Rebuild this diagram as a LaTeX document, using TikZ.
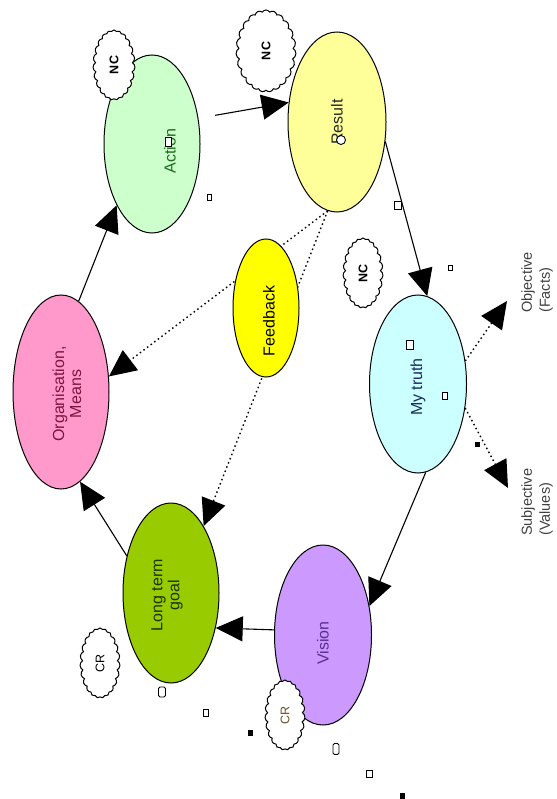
\documentclass[tikz,border=0pt]{standalone}
\usepackage{fontspec}
\setmainfont{Liberation Sans}
\usetikzlibrary{shapes.geometric,shapes.symbols,arrows.meta}
\pgfdeclarelayer{background}
\pgfdeclarelayer{bottom}
\pgfsetlayers{bottom,background,main}
\definecolor{cact}{HTML}{CCFFCC}
\definecolor{cres}{HTML}{FFFF99}
\definecolor{corg}{HTML}{FF99CC}
\definecolor{cfb}{HTML}{FFFF00}
\definecolor{ctru}{HTML}{CCFFFF}
\definecolor{cltg}{HTML}{99CC00}
\definecolor{cvis}{HTML}{CC99FF}
\definecolor{tact}{HTML}{1E6B1E}
\definecolor{torg}{HTML}{7A1440}
\definecolor{ttru}{HTML}{1A2A5A}
\definecolor{tltg}{HTML}{1A3300}
\definecolor{tvis}{HTML}{5A2D91}
\definecolor{tcr}{HTML}{6E5228}
\tikzset{
  oval/.style={ellipse, draw=black, line width=1pt, inner sep=0pt},
  rot/.style={rotate=90, align=center, inner sep=0pt, font=\fontsize{16}{17}\selectfont},
  smallrot/.style={rotate=90, align=left, inner sep=0pt, font=\fontsize{14.5}{18}\selectfont, text=black!75},
  cloudy/.style={cloud, cloud puffs=23, cloud puff arc=120, cloud ignores aspect, draw=black, fill=white, line width=1pt, inner sep=0pt},
  cloudtxt/.style={rotate=90, inner sep=0pt, font=\bfseries\fontsize{12.5}{14}\selectfont},
  conn/.style={line width=1.1pt, -{Triangle[length=27pt,width=25pt]}},
  dotconn/.style={line width=1.4pt, dash pattern=on 1.5pt off 3pt, -{Triangle[length=27pt,width=25pt]}},
  junk/.style={line width=0.9pt, draw=black, fill=white},
  junkf/.style={draw=black, fill=black}
}
\begin{document}
\begin{tikzpicture}[x=1pt,y=-1pt]
\useasboundingbox (0,0) rectangle (556,799);
\begin{pgfonlayer}{bottom}
\fill[white] (0,0) rectangle (556,799);
\end{pgfonlayer}

% ellipses
\node[oval, fill=cact, minimum width=96pt, minimum height=178pt,
  label={[name=actt, xshift=18pt, yshift=-7pt, rot, text=tact]center:Action}] (act) at (152,144) {};
\node[oval, fill=cres, minimum width=98pt, minimum height=180pt,
  label={[name=rest, rot, text=black!85]center:Result}] (res) at (337,122) {};
\node[oval, fill=corg, minimum width=96pt, minimum height=194pt,
  label={[name=orgt, xshift=6pt, yshift=-2pt, rot, text=torg]center:Organisation,\\Means}] (org) at (61,392) {};
\node[oval, fill=cfb, minimum width=66pt, minimum height=138pt,
  label={[name=fbt, xshift=3pt, yshift=-13pt, rot, text=black]center:Feedback}] (fb) at (266,308) {};
\node[oval, fill=ctru, minimum width=97pt, minimum height=178pt,
  label={[name=trut, yshift=-3pt, rot, text=ttru]center:My truth}] (tru) at (418,384) {};
\node[oval, fill=cltg, minimum width=96pt, minimum height=180pt,
  label={[name=ltgt, xshift=-4pt, yshift=-2pt, rot, text=tltg]center:Long term\\goal}] (ltg) at (171,593) {};
\node[oval, fill=cvis, minimum width=97pt, minimum height=180pt,
  label={[name=vist, yshift=-8pt, rot, text=tvis]center:Vision}] (vis) at (323,635) {};

% clouds
\node[cloudy, minimum width=42pt, minimum height=70pt,
  label={[name=nc1t, cloudtxt]center:NC}] (nc1) at (114,65) {};
\node[cloudy, minimum width=60pt, minimum height=82pt,
  label={[name=nc2t, cloudtxt]center:NC}] (nc2) at (266,51) {};
\node[cloudy, minimum width=40pt, minimum height=70pt,
  label={[name=nc3t, cloudtxt]center:NC}] (nc3) at (363,273) {};
\node[cloudy, minimum width=40pt, minimum height=70pt,
  label={[name=cr1t, cloudtxt, font=\fontsize{12.5}{14}\selectfont]center:CR}] (cr1) at (100,663) {};
\node[cloudy, minimum width=40pt, minimum height=70pt,
  label={[name=cr2t, cloudtxt, text=tcr, font=\fontsize{12.5}{14}\selectfont]center:CR}] (cr2) at (285,715) {};

% side labels
\node[smallrot, anchor=west] (obj) at (537,313) {Objective\\(Facts)};
\node[smallrot, anchor=west] (subj) at (537,536) {Subjective\\(Values)};
\coordinate (objtip) at (507,301);
\coordinate (subtip) at (508,488);

% solid connectors
\draw[conn] (org.79) -- (act.240);
\draw[conn, shorten <=17pt] (act.29) -- (res.158);
\draw[conn] (res.-22) -- (tru.84);
\draw[conn] (tru.-85) -- (vis.32);
\draw[conn] (vis.174) -- (ltg.-38);
\draw[conn] (ltg.140) -- (org.-78);

% dotted connectors (pass behind Feedback)
\begin{pgfonlayer}{background}
\draw[dotconn] (res.-96) -- (org.18);
\draw[dotconn] (res.-96) -- (ltg.64);
\end{pgfonlayer}
\draw[dotconn] (tru.26) -- (objtip);
\draw[dotconn] (tru.-27) -- (subtip);

% small stray marks
\draw[junk] (165,137.5) rectangle (171,146.5);
\draw[junk] (207,194) rectangle (211,200);
\draw[junk] (341,140) circle (4.5);
\draw[junk] (394.5,201) rectangle (401.5,209);
\draw[junk] (448,265.5) rectangle (452,270.5);
\draw[junk] (406.5,340.5) rectangle (413.5,349.5);
\draw[junk] (442.5,392.5) rectangle (447.5,399.5);
\fill[junkf] (475,442) rectangle (479,446);
\draw[junk, rounded corners=1.5pt] (158.5,687) rectangle (165.5,697);
\draw[junk] (203.5,709.5) rectangle (208.5,716.5);
\fill[junkf] (248,730.5) rectangle (252,735.5);
\draw[junk, rounded corners=1.5pt] (333,743.5) rectangle (339,754.5);
\draw[junk] (366,770.5) rectangle (372,777.5);
\fill[junkf] (400,793.5) rectangle (404,799);
\end{tikzpicture}
\end{document}
